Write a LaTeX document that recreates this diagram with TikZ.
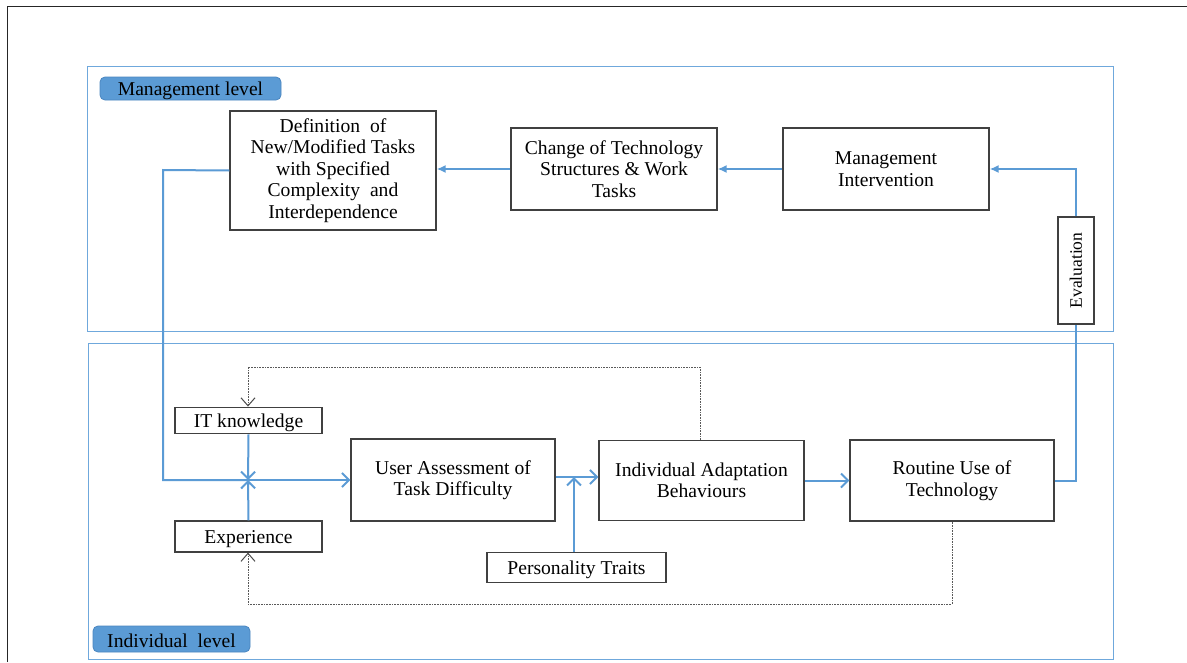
\documentclass[tikz,border=0pt]{standalone}
\usepackage{fontspec}
\usepackage{graphicx}
\setmainfont{Liberation Serif}
\usetikzlibrary{arrows.meta}
\definecolor{lineblue}{HTML}{5B9BD5}
\definecolor{panelblue}{HTML}{6FA8DC}
\definecolor{labelblue}{HTML}{5B9BD5}
\definecolor{labeledge}{HTML}{4A86C0}
\definecolor{boxedge}{HTML}{404040}
\newcommand{\txtfont}{\fontsize{19.6}{21.5}\selectfont}
\tikzset{
  x=1pt, y=-1pt,
  box/.style={draw=boxedge, line width=1.2pt, fill=white, align=center, inner sep=2pt,
    font=\txtfont, execute at begin node={\rule{0pt}{18.5pt}}},
  panel/.style={draw=panelblue, line width=1pt},
  lvl/.style={draw=labeledge, fill=labelblue, rounded corners=5pt, line width=0.8pt,
    font=\txtfont, inner sep=0pt, execute at begin node={\rule{0pt}{18pt}}},
  tarrow/.style={draw=lineblue, line width=2pt, -{Latex[length=9pt,width=8pt]}},
  barrow/.style={draw=lineblue, line width=2pt, -{Straight Barb[length=7pt,width=14pt,line width=2pt]}},
  bline/.style={draw=lineblue, line width=2pt},
  dotline/.style={draw=black!65, line width=0.8pt, dash pattern=on 0.8pt off 0.8pt},
  dotarrow/.style={dotline, -{Straight Barb[length=8pt,width=14pt,line width=1pt,color=black!70]}},
}
\begin{document}
\begin{tikzpicture}
\useasboundingbox (0,0) rectangle (1187,662);
\fill[white] (0,0) rectangle (1187,662);
% outer frame (partially visible)
\draw[black!85, line width=1pt] (7,662) -- (7,6) -- (1187,6);

% panels
\draw[panel] (87,66) rectangle (1113,331);
\draw[panel] (88,343) rectangle (1113,659);
\node[lvl, minimum width=181pt, minimum height=23pt] (mlab) at (190.5,88.5) {Management level};
\node[lvl, minimum width=157pt, minimum height=26pt] (ilab) at (171.5,639) {Individual\hspace{5pt} level};

% management boxes
\node[box, minimum width=206pt, minimum height=119pt] (def) at (333,170.5)
  {Definition\ \ of\\New/Modified Tasks\\with Specified\\Complexity\ \ and\\Interdependence};
\node[box, minimum width=206pt, minimum height=82pt] (chg) at (614,169)
  {Change of Technology\\Structures \& Work\\Tasks};
\node[box, minimum width=206pt, minimum height=82pt] (mgmt) at (886,169)
  {Management\\Intervention};
\node[box, minimum width=36pt, minimum height=107pt, inner sep=0pt,
  execute at begin node={}] (eval) at (1076,270.5)
  {\rotatebox{90}{\fontsize{17.5}{20}\selectfont Evaluation}};

% individual boxes
\node[box, minimum width=147pt, minimum height=25pt] (itk) at (248.5,420.5) {IT knowledge};
\node[box, minimum width=147pt, minimum height=31pt] (exp) at (248.5,536.5) {Experience};
\node[box, minimum width=204pt, minimum height=82pt] (user) at (453,480)
  {User Assessment of\\Task Difficulty};
\node[box, minimum width=205pt, minimum height=80pt] (ind) at (701.5,480.5)
  {Individual Adaptation\\Behaviours};
\node[box, minimum width=204pt, minimum height=81pt] (rout) at (952,480.5)
  {Routine Use of\\Technology};
\node[box, minimum width=179pt, minimum height=30pt] (pers) at (576.5,567.5) {Personality Traits};

% coordinates
\coordinate (c1) at (163,170);
\coordinate (c2) at (163,480);
\coordinate (jx) at (248,480);
\coordinate (j2) at (574,477);
\coordinate (d1) at (700,367);
\coordinate (d2) at (248,367);
\coordinate (d3) at (952,604);
\coordinate (d4) at (248,604);

% top arrows
\draw[tarrow] (mgmt.west) -- (chg.east);
\draw[tarrow] (chg.west) -- (chg.west -| def.east);
\draw[tarrow] (eval.north) |- (mgmt.east);

% definition feeds down to user assessment
\draw[bline] (def.west) -- (c1) -- (c2) -- (jx);
\draw[barrow] (jx) -- (user.west);
\draw[barrow] (itk.south) -- (jx);
\draw[barrow] (exp.north) -- (jx);

% user -> individual adaptation
\draw[barrow] (user.east |- j2) -- (ind.west |- j2);
\draw[barrow] (pers.north -| j2) -- (j2);
% ind -> routine
\draw[barrow] (ind.east) -- (rout.west);
% routine -> evaluation
\draw[bline] (rout.east) -| (eval.south);

% dotted feedback loops
\draw[dotarrow] (ind.north -| d1) -- (d1) -- (d2) -- (itk.north -| d2);
\draw[dotarrow] (rout.south -| d3) -- (d3) -- (d4) -- (exp.south -| d4);
\end{tikzpicture}
\end{document}
